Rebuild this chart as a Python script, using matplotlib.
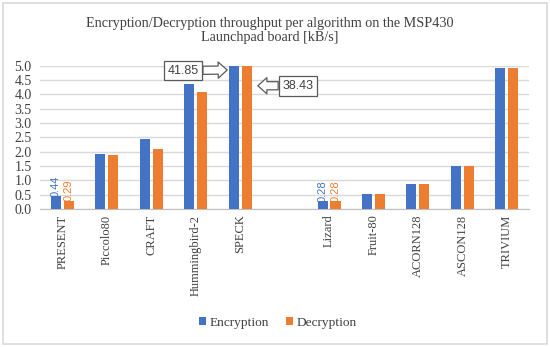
import matplotlib
matplotlib.use("Agg")
import matplotlib.pyplot as plt
import numpy as np
from matplotlib.patches import Rectangle

categories = ["PRESENT", "Piccolo80", "CRAFT", "Hummingbird-2", "SPECK", "",
              "Lizard", "Fruit-80", "ACORN128", "ASCON128", "TRIVIUM"]
encryption = [0.44, 1.92, 2.45, 4.37, 41.85, np.nan, 0.28, 0.52, 0.87, 1.49, 4.91]
decryption = [0.29, 1.88, 2.08, 4.09, 38.43, np.nan, 0.28, 0.52, 0.87, 1.49, 4.91]
labelled = ["PRESENT", "Lizard"]
callout_cat = "SPECK"

BLUE = "#4472C4"
ORANGE = "#ED7D31"
SERIF = "Liberation Serif"
SANS = "Liberation Sans"

fig = plt.figure(figsize=(5.5, 3.47), dpi=100)
ax = fig.add_axes([0.0727, 0.3977, 0.8893, 0.413])

x = np.arange(len(categories))
w = 0.225
off = 0.146
ymax = 5.0
enc_plot = np.minimum(np.array(encryption, dtype=float), ymax)
dec_plot = np.minimum(np.array(decryption, dtype=float), ymax)
ax.bar(x - off, enc_plot, w, color=BLUE, label="Encryption", zorder=3)
ax.bar(x + off, dec_plot, w, color=ORANGE, label="Decryption", zorder=3)

for c in labelled:
    i = categories.index(c)
    ax.text(i - off, encryption[i] - 0.02, f"{encryption[i]:.2f}", rotation=90,
            ha="center", va="bottom", color=BLUE, fontsize=8, family=SANS, zorder=4)
    ax.text(i + off, decryption[i] - 0.02, f"{decryption[i]:.2f}", rotation=90,
            ha="center", va="bottom", color=ORANGE, fontsize=8, family=SANS, zorder=4)

ax.set_xlim(-0.5, len(categories) - 0.5)
ax.set_ylim(0, ymax)
ax.set_yticks(np.arange(0, 5.01, 0.5))
ax.set_yticklabels([f"{v:.1f}" for v in np.arange(0, 5.01, 0.5)], family=SERIF,
                   fontsize=10, color="#404040")
ax.set_xticks(x)
ax.set_xticklabels(categories, rotation=90, family=SERIF, fontsize=9, color="#404040")
ax.tick_params(axis="x", length=0, pad=4)
ax.tick_params(axis="y", length=0, pad=6)
ax.grid(axis="y", color="#D9D9D9", linewidth=1, zorder=0)
for s in ["top", "right", "left"]:
    ax.spines[s].set_visible(False)
ax.spines["bottom"].set_color("#BFBFBF")

# callouts for the clipped SPECK values
k = categories.index(callout_cat)
arrow = dict(arrowstyle="simple,head_length=0.5,head_width=0.9,tail_width=0.45",
             fc="white", ec="#595959", lw=0.9, mutation_scale=13, shrinkA=0, shrinkB=0)
box = dict(boxstyle="square,pad=0.3", fc="white", ec="#595959", lw=0.9)
ax.annotate(f"{encryption[k]:.2f}", xy=(k - 0.29, 4.85), xytext=(k - 1.28, 4.83),
            ha="center", va="center", fontsize=9, family=SANS, color="#404040",
            bbox=box, arrowprops=arrow, zorder=5, annotation_clip=False)
ax.annotate(f"{decryption[k]:.2f}", xy=(k + 0.40, 4.30), xytext=(k + 1.30, 4.30),
            ha="center", va="center", fontsize=9, family=SANS, color="#404040",
            bbox=box, arrowprops=arrow, zorder=5, annotation_clip=False)

fig.text(0.49, 0.912, "Encryption/Decryption throughput per algorithm on the MSP430\nLaunchpad board [kB/s]",
         ha="center", va="center", family=SERIF, fontsize=10.2, color="#404040", linespacing=1.15)

leg = fig.legend(loc="center", bbox_to_anchor=(0.505, 0.069), ncol=2, frameon=False,
                 prop={"family": SERIF, "size": 9.6}, handlelength=0.55, handleheight=0.55,
                 handletextpad=0.25, columnspacing=1.3)
for t in leg.get_texts():
    t.set_color("#404040")

fig.patches.append(Rectangle((0.006, 0.008), 0.988, 0.984, transform=fig.transFigure,
                             fill=False, ec="#D9D9D9", lw=1.2))

fig.savefig("out.png", dpi=100)
